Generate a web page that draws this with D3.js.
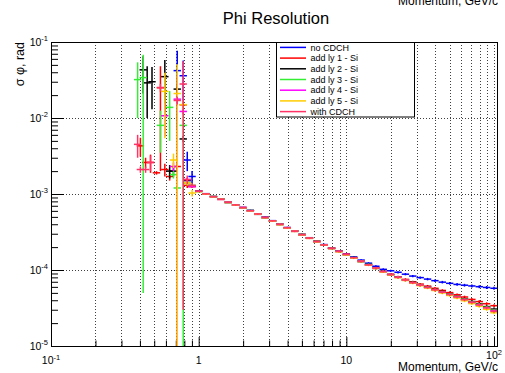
<!DOCTYPE html>
<html><head><meta charset="utf-8">
<script src="https://cdn.jsdelivr.net/npm/d3@7"></script>
<style>
body{margin:0;background:#fff;}
svg{display:block;font-family:"Liberation Sans",Arial,Helvetica,sans-serif;}
</style>
</head><body>
<svg id="c" width="505" height="373"></svg>
<script>
// ---------------- data ----------------
const seriesNames = ["no CDCH","add ly 1 - Si","add ly 2 - Si","add ly 3 - Si","add ly 4 - Si","add ly 5 - Si","with CDCH"];
const seriesColors = ["#0000ff","#ff0000","#000000","#33ee33","#ff00ff","#ffcc00","#ff3366"];

// momentum bin centres (GeV/c) of the smooth part
const momentum = [1.000,1.122,1.259,1.413,1.585,1.778,1.995,2.239,2.512,2.818,3.162,3.548,3.981,4.467,5.012,5.623,6.310,7.079,7.943,8.913,
  10.00,11.22,12.59,14.13,15.85,17.78,19.95,22.39,25.12,28.18,31.62,35.48,39.81,44.67,50.12,56.23,63.10,70.79,79.43,89.13,100.0];

// sigma phi in units of 1e-5 rad
const sigmaNoCDCH = [109.6,101,92.8,85.6,78.2,72.0,66.5,60.8,54.8,49.4,44.6,40.2,36.2,32.7,29.5,26.6,23.9,21.6,19.5,17.8,16.2,
  14.8,13.5,12.3,11.2,10.2,9.77,9.33,8.81,8.32,7.94,7.59,7.24,6.92,6.68,6.46,6.31,6.17,6.03,5.89,5.75];
const sigmaLy1 = [109,100.2,92.6,84.8,77.9,71.3,66.4,60.0,54.6,48.8,44.5,39.6,36.1,32.2,29.4,26.1,23.9,21.2,19.4,17.5,16.1,
  14.4,13.1,11.6,10.7,9.5,8.8,8.12,7.52,6.98,6.52,6.13,5.74,5.38,5.04,4.73,4.41,4.1,3.84,3.6,3.39];
const sigmaLy2 = [108.4,100.5,92.0,85.5,77.2,71.9,66.0,60.6,54.0,49.2,44.0,40.0,35.7,32.6,29.0,26.4,23.6,21.5,19.2,17.7,15.9,
  14.6,12.9,11.8,10.5,9.6,8.68,8.06,7.38,6.86,6.35,5.98,5.53,5.2,4.82,4.5,4.15,3.84,3.57,3.3,3.06];
const sigmaLy3 = [107.8,99.6,92.9,85.4,77.3,71.8,65.8,60.5,54.4,48.7,44.3,39.7,36.0,32.3,29.3,26.2,23.8,21.3,19.3,17.6,15.9,
  14.5,13.0,11.8,10.6,9.52,8.69,8.0,7.38,6.8,6.34,5.92,5.52,5.14,4.79,4.46,4.11,3.79,3.52,3.24,2.96];
const sigmaLy4 = [108.6,99.8,92.1,85.0,77.7,71.5,66.2,60.2,54.2,49.1,44.1,39.9,35.8,32.5,29.1,26.3,23.6,21.4,19.2,17.6,16.0,
  14.5,13.0,11.7,10.6,9.53,8.7,8.01,7.36,6.79,6.31,5.89,5.48,5.1,4.74,4.41,4.06,3.74,3.47,3.18,2.9];
const sigmaLy5 = [107.5,99.4,91.9,85.2,77.4,71.2,65.9,60.1,54.1,48.9,43.9,39.7,35.6,32.3,29.0,26.1,23.5,21.2,19.1,17.4,15.8,
  14.3,12.9,11.6,10.5,9.45,8.62,7.93,7.29,6.72,6.23,5.8,5.38,4.99,4.63,4.29,3.94,3.62,3.34,3.04,2.74];
const sigmaWithCDCH = [108.2,100.1,92.4,85.3,77.5,71.7,66.1,60.4,54.5,49.0,44.3,39.8,35.9,32.4,29.2,26.3,23.7,21.3,19.3,17.6,16.0,
  14.5,13.0,11.7,10.6,9.55,8.7,8.02,7.37,6.8,6.32,5.9,5.48,5.1,4.75,4.42,4.07,3.75,3.47,3.18,2.86];
// relative error of the smooth part
const mainRelErr = [0.015,0.015,0.016,0.016,0.017,0.017,0.018,0.018,0.019,0.019,0.02,0.02,0.021,0.021,0.022,0.022,0.023,0.023,0.024,0.025,
  0.026,0.027,0.028,0.029,0.03,0.031,0.032,0.033,0.034,0.035,0.036,0.037,0.038,0.039,0.04,0.041,0.042,0.043,0.044,0.045,0.046];

// low momentum points: [p (GeV/c), sigma (rad), error (rad)]
const lowNoCDCH = [[0.716,0.042,0.035],[0.786,0.036,0.021],[0.837,0.0028,0.0008],[0.902,0.0017,0.0003]];
const lowLy1 = [[0.403,0.0043,0.0012],[0.437,0.0026,0.0004],[0.472,0.0026,0.0007],[0.518,0.0019,0.0001],[0.551,0.025,0.023],
  [0.59,0.0021,0.0004],[0.636,0.0017,0.0002],[0.716,0.0023,0.0003],[0.786,0.0149,0.0015],[0.837,0.0013,0.0001],[0.902,0.00125,0.00005]];
const lowLy2 = [[0.421,0.043,0.022],[0.448,0.029,0.019],[0.483,0.030,0.017],[0.59,0.035,0.023],[0.636,0.0020,0.0004],
  [0.675,0.0020,0.0003],[0.716,0.024,0.003],[0.786,0.0053,0.0005],[0.837,0.0015,0.0001],[0.902,0.00128,0.00005]];
const lowLy3 = [[0.386,0.032,0.022],[0.421,0.034,0.03395],[0.551,0.008,0.0045],[0.636,0.0138,0.0088],[0.675,0.0018,0.0002],
  [0.716,0.0012,0.0001],[0.786,0.008,0.0085],[0.837,0.0014,0.0001],[0.902,0.0013,0.00005]];
const lowLy4 = [[0.59,0.0107,0.005],[0.675,0.0023,0.0003],[0.716,0.0177,0.019],[0.786,0.0122,0.001],[0.837,0.00155,0.0001],[0.902,0.00125,0.00005]];
const lowLy5 = [[0.59,0.0224,0.017],[0.675,0.0028,0.0006],[0.716,0.021,0.03],[0.786,0.015,0.002],[0.837,0.0014,0.0001],[0.902,0.00103,0.0001]];
const lowWithCDCH = [[0.386,0.0045,0.0015],[0.403,0.0021,0.0002],[0.437,0.0021,0.0002],[0.472,0.0026,0.0006],[0.551,0.0252,0.003],
  [0.716,0.017,0.002],[0.786,0.028,0.02797],[0.837,0.00155,0.0002],[0.902,0.0013,0.0001]];

const xTickValues = [0.1,1,10,100];
const xTickLabels = [["10","-1"],["1",""],["10",""],["10","2"]];
const yTickValues = [1e-1,1e-2,1e-3,1e-4,1e-5];
const yTickLabels = [["10","-1"],["10","-2"],["10","-3"],["10","-4"],["10","-5"]];

const mainSeries = [sigmaNoCDCH,sigmaLy1,sigmaLy2,sigmaLy3,sigmaLy4,sigmaLy5,sigmaWithCDCH];
const lowSeries = [lowNoCDCH,lowLy1,lowLy2,lowLy3,lowLy4,lowLy5,lowWithCDCH];

// ---------------- layout ----------------
const L = 51, R = 498, T = 42, B = 346;
const svg = d3.select("#c");
const x = d3.scaleLog().domain([0.1, 106.4]).range([L, R]);
const y = d3.scaleLog().domain([1e-5, 1e-1]).range([B, T]);

svg.append("defs").append("clipPath").attr("id","clip")
  .append("rect").attr("x",L).attr("y",T).attr("width",R-L).attr("height",B-T);

// grid
const xMinor = [];
[0.1,1,10].forEach(d => { for (let m=2;m<=9;m++) xMinor.push(d*m); });
const xGridVals = xMinor.concat([1,10,100]);
const yMinor = [];
[1e-5,1e-4,1e-3,1e-2].forEach(d => { for (let m=2;m<=9;m++) yMinor.push(d*m); });

const grid = svg.append("g").attr("stroke","#000").attr("stroke-width",1).attr("stroke-dasharray","1,2").attr("opacity",0.75);
grid.selectAll("line.vx").data(xGridVals).join("line")
  .attr("x1",d=>Math.round(x(d))+0.5).attr("x2",d=>Math.round(x(d))+0.5).attr("y1",T).attr("y2",B);
grid.selectAll("line.hy").data([1e-2,1e-3,1e-4]).join("line")
  .attr("y1",d=>Math.round(y(d))+0.5).attr("y2",d=>Math.round(y(d))+0.5).attr("x1",L).attr("x2",R);

// axes (ticks inward)
function styleAxis(g){ g.select(".domain").remove(); g.selectAll("text").remove(); g.selectAll("line").attr("stroke","#000"); }
svg.append("g").attr("transform",`translate(0,${B})`)
  .call(d3.axisTop(x).tickValues(xTickValues).tickSize(9).tickFormat("")).call(styleAxis);
svg.append("g").attr("transform",`translate(0,${B})`)
  .call(d3.axisTop(x).tickValues(xMinor).tickSize(5.5).tickFormat("")).call(styleAxis);
svg.append("g").attr("transform",`translate(${L},0)`)
  .call(d3.axisRight(y).tickValues(yTickValues).tickSize(13).tickFormat("")).call(styleAxis);
svg.append("g").attr("transform",`translate(${L},0)`)
  .call(d3.axisRight(y).tickValues(yMinor).tickSize(7).tickFormat("")).call(styleAxis);

// data
const hw = Math.pow(10, 0.025);
const plot = svg.append("g").attr("clip-path","url(#clip)").attr("fill","none").attr("stroke-width",1.5);
mainSeries.forEach((arr, si) => {
  const pts = lowSeries[si].map(d => ({p:d[0], v:d[1], e:d[2]}))
    .concat(arr.map((v,k) => ({p:momentum[k], v:v*1e-5, e:v*1e-5*mainRelErr[k]})));
  const g = plot.append("g").attr("stroke", seriesColors[si]);
  g.selectAll("line.h").data(pts).join("line")
    .attr("x1",d=>x(d.p/hw)).attr("x2",d=>x(d.p*hw)).attr("y1",d=>y(d.v)).attr("y2",d=>y(d.v));
  g.selectAll("line.v").data(pts).join("line")
    .attr("x1",d=>x(d.p)).attr("x2",d=>x(d.p))
    .attr("y1",d=>y(d.v+d.e)).attr("y2",d=> d.v-d.e > 0 ? y(d.v-d.e) : B+10);
});

// frame
svg.append("rect").attr("x",L+0.5).attr("y",T+0.5).attr("width",R-L-1).attr("height",B-T)
  .attr("fill","none").attr("stroke","#000").attr("stroke-width",1);

// tick labels
function powLabel(g, base, sup, supFont, dy){
  g.append("tspan").text(base);
  if (sup) g.append("tspan").attr("font-size",supFont).attr("dy",dy).text(sup);
}
xTickValues.forEach((v,i) => {
  const last = i === xTickValues.length-1;
  const t = svg.append("text").attr("x",x(v)).attr("y", last ? 358.5 : 363.5)
    .attr("text-anchor","middle").attr("font-size",10.5).attr("fill","#000");
  powLabel(t, xTickLabels[i][0], xTickLabels[i][1], 7.5, -4);
});
yTickValues.forEach((v,i) => {
  const t = svg.append("text").attr("x",48).attr("y",y(v)+3.5)
    .attr("text-anchor","end").attr("font-size",10.5).attr("fill","#000");
  powLabel(t, yTickLabels[i][0], yTickLabels[i][1], 7.5, -4.5);
});

// titles
svg.append("text").attr("x",276).attr("y",24).attr("text-anchor","middle").attr("font-size",16.5).text("Phi Resolution");
svg.append("text").attr("x",R).attr("y",370.5).attr("text-anchor","end").attr("font-size",12).text("Momentum, GeV/c");
svg.append("text").attr("x",R).attr("y",4.5).attr("text-anchor","end").attr("font-size",12).text("Momentum, GeV/c");
svg.append("text").attr("transform","translate(24,42) rotate(-90)").attr("text-anchor","end").attr("font-size",12.5).text("σ φ, rad");

// legend
const lg = svg.append("g");
lg.append("rect").attr("x",276.5).attr("y",42.5).attr("width",138).attr("height",74.5).attr("fill","#fff").attr("stroke","#000");
seriesNames.forEach((n,i) => {
  const yy = 47.4 + 10.7*i;
  lg.append("line").attr("x1",280).attr("x2",306).attr("y1",yy).attr("y2",yy).attr("stroke",seriesColors[i]).attr("stroke-width",1.5);
  lg.append("text").attr("x",310.5).attr("y",yy+3.2).attr("font-size",9).text(n);
});
</script>
</body></html>
